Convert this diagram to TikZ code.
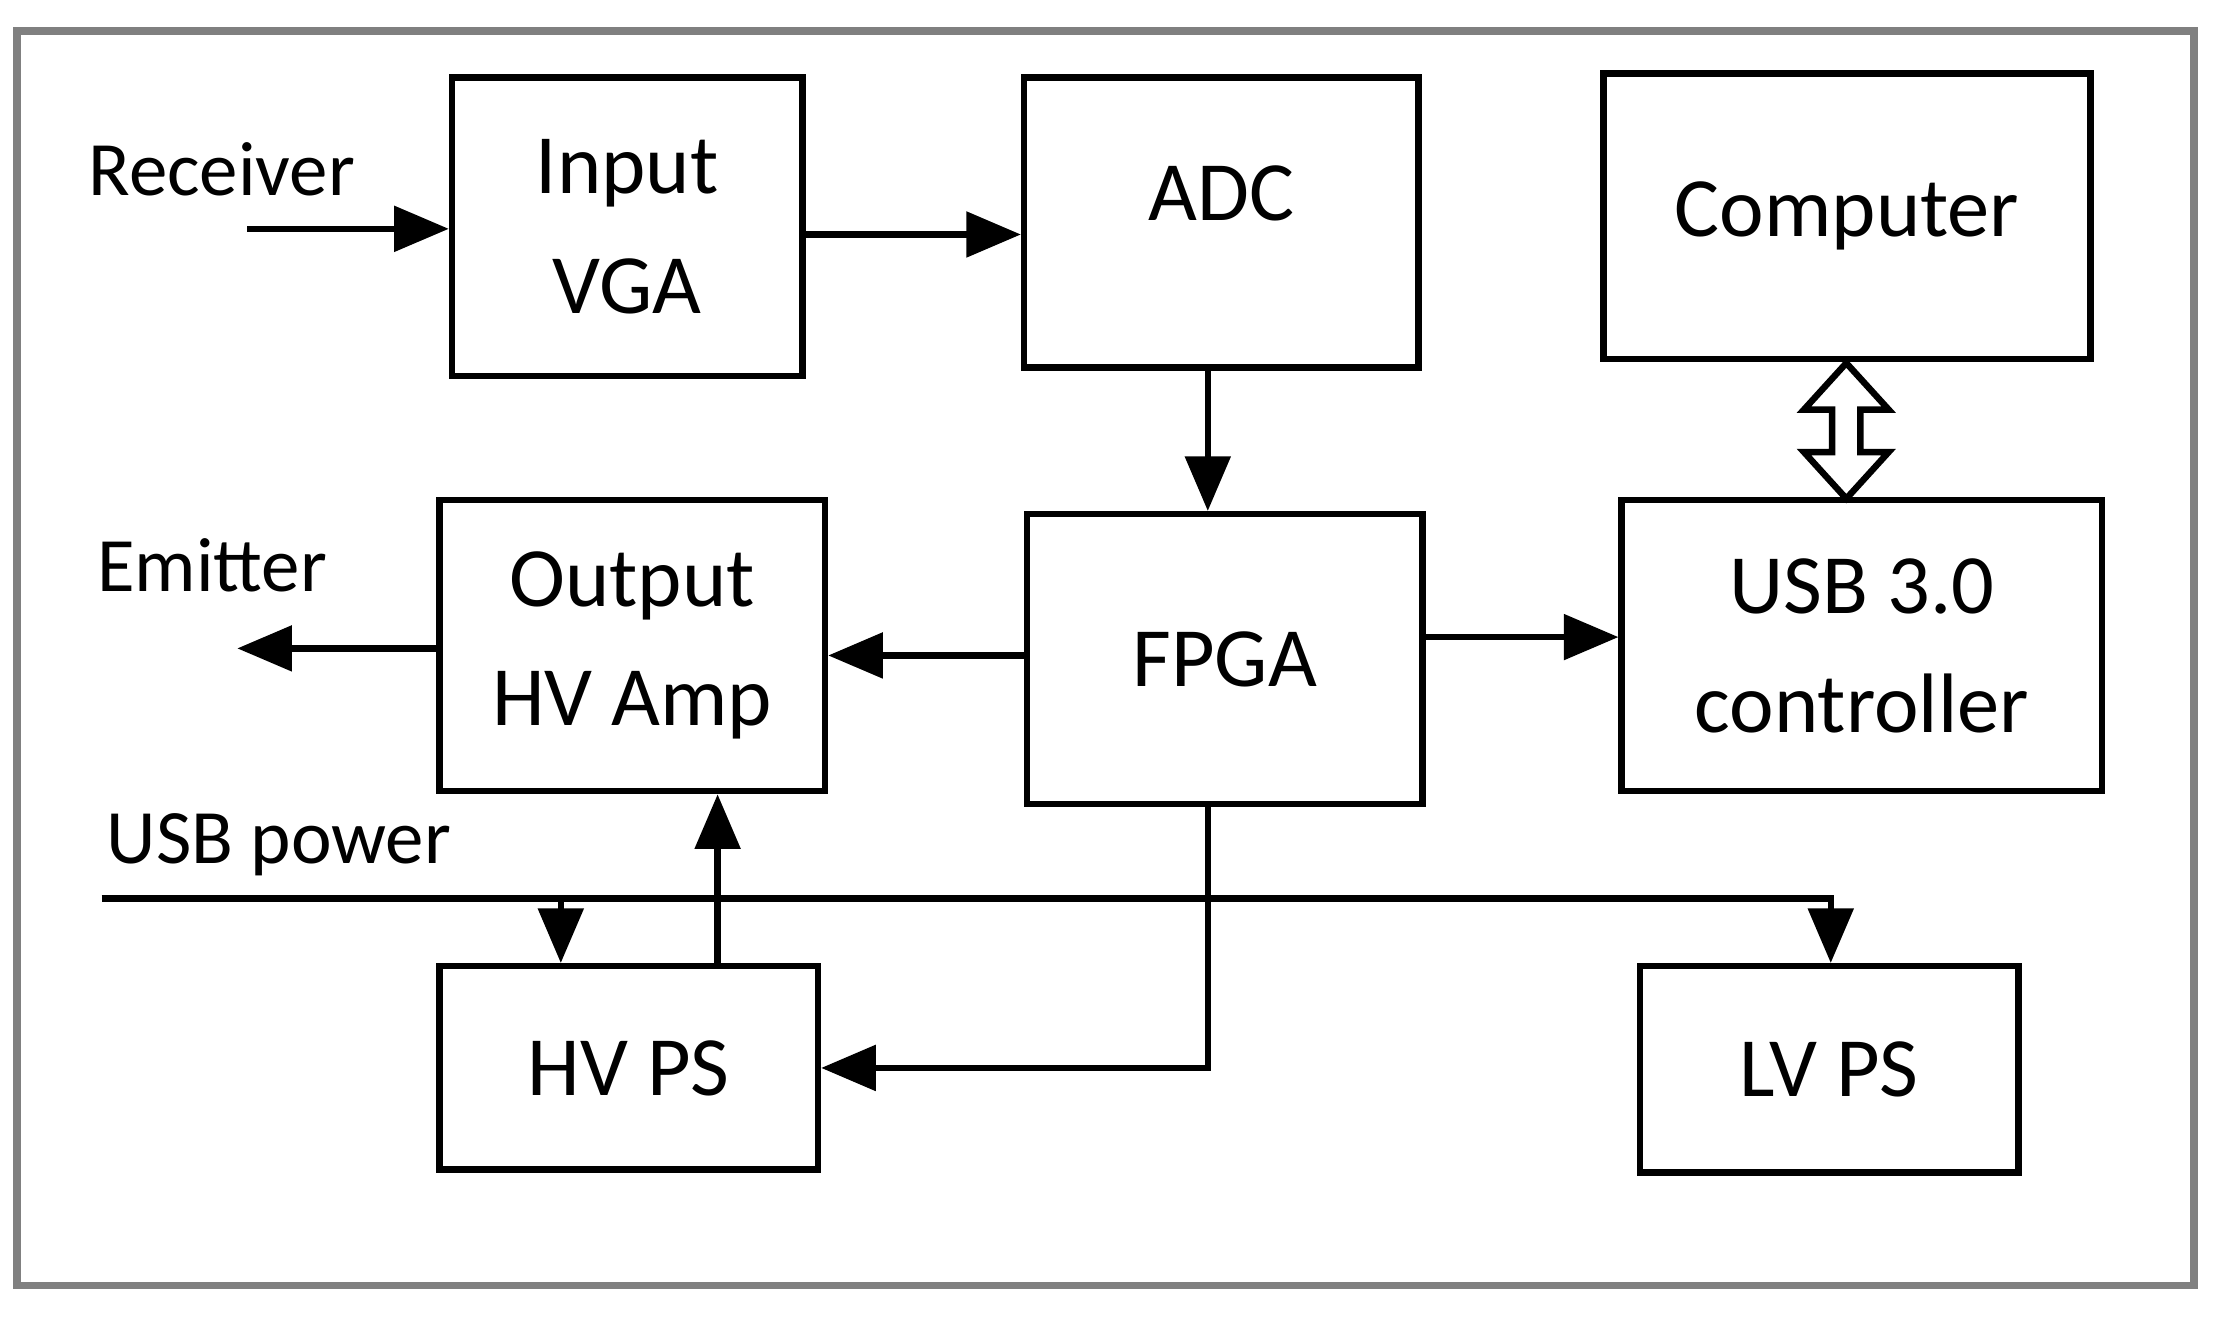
\documentclass[tikz,border=0pt]{standalone}
\usepackage{fontspec}
\setmainfont{Carlito}
\usetikzlibrary{arrows.meta}
\begin{document}
\begin{tikzpicture}[x=0.1mm,y=-0.1mm,
  blk/.style={draw,line width=1.3pt,align=center,font=\fontsize{17}{24}\selectfont,inner sep=0pt},
  lbl/.style={font=\fontsize{15.5}{19}\selectfont,anchor=west,inner sep=0pt},
  arr/.style={line width=1.3pt,-{Triangle[length=11pt,width=9pt]}}]
\useasboundingbox (0,0) rectangle (1568,935);
\draw[gray,line width=1.5pt] (12,22) rectangle (1553,910);
\node[blk,minimum width=248*0.1mm,minimum height=211*0.1mm] (vga) at (444,160.5) {Input\\VGA};
\node[blk,minimum width=279*0.1mm,minimum height=205*0.1mm] (adc) at (864.5,157.5) {};
\node[font=\fontsize{17}{24}\selectfont] (adct) at (864.5,137) {ADC};
\node[blk,minimum width=345*0.1mm,minimum height=202*0.1mm] (comp) at (1307.5,153) {Computer};
\node[blk,minimum width=273*0.1mm,minimum height=206*0.1mm] (out) at (447.5,457) {Output\\HV Amp};
\node[blk,minimum width=280*0.1mm,minimum height=205*0.1mm] (fpga) at (867,466.5) {FPGA};
\node[blk,minimum width=340*0.1mm,minimum height=206*0.1mm] (usb) at (1318,457) {USB 3.0\\controller};
\node[blk,minimum width=268*0.1mm,minimum height=144*0.1mm] (hvps) at (445,756) {HV PS};
\node[blk,minimum width=268*0.1mm,minimum height=146*0.1mm] (lvps) at (1295,757) {LV PS};
\node[lbl] (rx) at (62,120) {Receiver};
\node[lbl] (em) at (68,400) {Emitter};
\node[lbl] (up) at (75,598) {USB power};
\coordinate (rxs) at (175,162);
\coordinate (ems) at (168,459);
\coordinate (ups) at (72,636);
\coordinate (upe) at (1296,636);
\coordinate (br) at (397,636);
\coordinate (y166) at (0,166);
\coordinate (y464) at (0,464);
\coordinate (y451) at (0,451);
\coordinate (y756) at (855,756);
\coordinate (x855) at (855,0);
\coordinate (x508) at (508,0);
\draw[arr] (rxs) -- (vga.west|-rxs);
\draw[arr] (vga.east|-y166) -- (adc.west|-y166);
\draw[arr] (adc.south-|x855) -- (fpga.north-|x855);
\draw[arr] (fpga.west|-y464) -- (out.east|-y464);
\draw[arr] (out.west|-ems) -- (ems);
\draw[arr] (fpga.east|-y451) -- (usb.west|-y451);
\draw[arr] (ups) -- (upe) -- (lvps.north-|upe);
\draw[arr] (br) -- (hvps.north-|br);
\draw[arr] (hvps.north-|x508) -- (out.south-|x508);
\draw[arr] (fpga.south-|x855) -- (y756) -- (hvps.east|-y756);
\draw[line width=1.3pt,fill=white] (1307,257) -- (1337,290) -- (1317,290) -- (1317,320) -- (1337,320) -- (1307,353) -- (1277,320) -- (1297,320) -- (1297,290) -- (1277,290) -- cycle;
\end{tikzpicture}
\end{document}
